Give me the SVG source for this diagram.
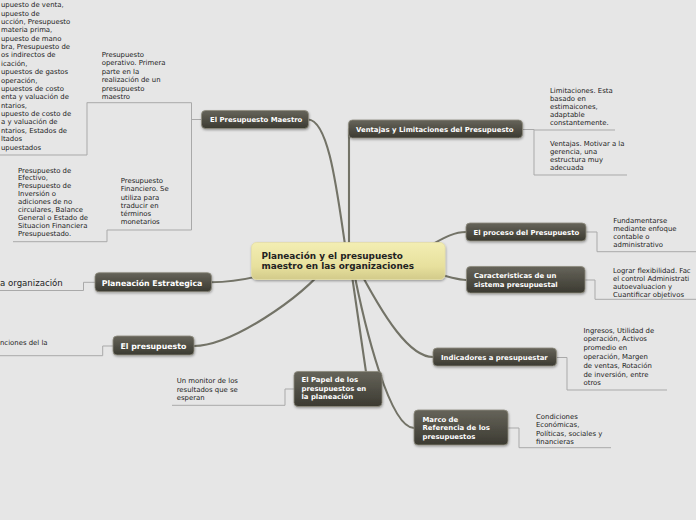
<svg xmlns="http://www.w3.org/2000/svg" width="696" height="520" viewBox="0 0 696 520">
<defs>
<linearGradient id="dark" x1="0" y1="0" x2="0" y2="1"><stop offset="0" stop-color="#66645a"/><stop offset="1" stop-color="#3b3a31"/></linearGradient>
<linearGradient id="yel" x1="0" y1="0" x2="0" y2="1"><stop offset="0" stop-color="#f3eeb3"/><stop offset="0.65" stop-color="#e7e09d"/><stop offset="1" stop-color="#d2ca8a"/></linearGradient>
<filter id="sh" x="-10%" y="-20%" width="120%" height="150%"><feDropShadow dx="0.5" dy="1.2" stdDeviation="0.8" flood-color="#000" flood-opacity="0.35"/></filter>
<style>
.main{fill:none;stroke:#737367;stroke-width:2.1;stroke-linecap:round}
.thin{fill:none;stroke:#a9a9a9;stroke-width:1}
.box{fill:url(#dark);stroke:#8e8c7e;stroke-width:0.8;filter:url(#sh)}
.cbox{fill:url(#yel);stroke:#e4dea6;stroke-width:0.8;filter:url(#sh)}
.nt{font-family:"DejaVu Sans",Verdana,sans-serif;font-weight:bold;font-size:6.9px;fill:#ffffff}
.nl{font-family:"DejaVu Sans",Verdana,sans-serif;font-weight:bold;font-size:7.8px;fill:#ffffff}
.ct{font-family:"DejaVu Sans",Verdana,sans-serif;font-weight:bold;font-size:8.9px;fill:#222222}
.lt{font-family:"DejaVu Sans",Verdana,sans-serif;font-size:6.9px;fill:#222222}
.lb{font-family:"DejaVu Sans",Verdana,sans-serif;font-size:8.6px;fill:#222222}
</style>
</defs>
<rect width="696" height="520" fill="#e6e6e6"/>
<g id="connectors">
<path class="main" d="M347,258 C338,200 330,120 308,119.5"/>
<path class="main" d="M349,258 L349,129"/>
<path class="main" d="M400,258 C430,250 445,232 466,232"/>
<path class="main" d="M400,262 C430,270 450,280 466,280"/>
<path class="main" d="M355,262 C385,320 410,357 433,357"/>
<path class="main" d="M352,262 C365,330 390,428 414,428"/>
<path class="main" d="M350,262 L366,372"/>
<path class="main" d="M330,262 C300,300 230,346 194,346"/>
<path class="main" d="M300,262 C270,275 240,282 211,282.3"/>
<path class="thin" d="M201.5,119.5 H191.5 M191.5,102.7 V230 M86.8,102.7 H191.5 M107,230 H191.5 M87,102.7 V155 M0,155 H87 M107,230 V241.7 M13,241.7 H107"/>
<path class="thin" d="M522.5,129.5 H534 V175 M534,130 H615 M534,175 H627"/>
<path class="thin" d="M586,232 H597 V251.7 H696"/>
<path class="thin" d="M585,280 H595 V299.3 H696"/>
<path class="thin" d="M556.5,357.5 H567 V390 H667"/>
<path class="thin" d="M508,428 H519 V447.7 H611"/>
<path class="thin" d="M294,389 H285 V405.3 H172"/>
<path class="thin" d="M113,346 H102.7 V355.7 H0"/>
<path class="thin" d="M95,282.3 H83.5 V290.5 H0"/>
</g>
<g id="center">
<rect class="cbox" x="251.5" y="242.5" width="193.5" height="37" rx="5"/>
<text class="ct" x="261.5" y="258.5">Planeación y el presupuesto</text>
<text class="ct" x="261.5" y="268.8">maestro en las organizaciones</text>
</g>
<g id="n-maestro">
<rect class="box" x="201.5" y="110.5" width="107" height="18" rx="4"/>
<text class="nt" x="210" y="122">El Presupuesto Maestro</text>
</g>
<g id="n-ventajas">
<rect class="box" x="348.5" y="120" width="174" height="18" rx="4"/>
<text class="nt" x="356" y="131.5">Ventajas y Limitaciones del Presupuesto</text>
</g>
<g id="n-proceso">
<rect class="box" x="466" y="223" width="120" height="18" rx="4"/>
<text class="nt" x="473.5" y="234.5">El proceso del Presupuesto</text>
</g>
<g id="n-caract">
<rect class="box" x="466.5" y="266.5" width="118.5" height="26.5" rx="4"/>
<text class="nt" x="474" y="277.5">Caracteristicas de un</text>
<text class="nt" x="474" y="286.5">sistema presupuestal</text>
</g>
<g id="n-indicadores">
<rect class="box" x="433" y="348" width="123.5" height="18" rx="4"/>
<text class="nt" x="441" y="360">Indicadores a presupuestar</text>
</g>
<g id="n-marco">
<rect class="box" x="414" y="410" width="94" height="35" rx="4"/>
<text class="nt" x="422.5" y="421.5">Marco de</text>
<text class="nt" x="422.5" y="430">Referencia de los</text>
<text class="nt" x="422.5" y="438.5">presupuestos</text>
</g>
<g id="n-papel">
<rect class="box" x="294" y="371.5" width="88" height="35" rx="4"/>
<text class="nt" x="301.5" y="382">El Papel de los</text>
<text class="nt" x="301.5" y="390.5">presupuestos en</text>
<text class="nt" x="301.5" y="399">la planeación</text>
</g>
<g id="n-presupuesto">
<rect class="box" x="113" y="336" width="81" height="19" rx="4"/>
<text class="nl" x="120.5" y="348.5">El presupuesto</text>
</g>
<g id="n-estrategica">
<rect class="box" x="95" y="272.7" width="116.5" height="19" rx="4"/>
<text class="nl" x="101.7" y="285.5">Planeación Estrategica</text>
</g>
<g id="l-lista">
<text class="lt"><tspan x="1" y="7.2">upuesto de venta,</tspan><tspan x="1" y="15.6">upuesto de</tspan><tspan x="1" y="24">ucción, Presupuesto</tspan><tspan x="1" y="32.3">materia prima,</tspan><tspan x="1" y="40.7">upuesto de mano</tspan><tspan x="1" y="49">bra, Presupuesto de</tspan><tspan x="1" y="57.4">os indirectos de</tspan><tspan x="1" y="65.8">icación,</tspan><tspan x="1" y="74.2">upuestos de gastos</tspan><tspan x="1" y="82.5">operación,</tspan><tspan x="1" y="90.9">upuestos de costo</tspan><tspan x="1" y="99.3">enta y valuación de</tspan><tspan x="1" y="107.6">ntarios,</tspan><tspan x="1" y="116">upuesto de costo de</tspan><tspan x="1" y="124.4">a y valuación de</tspan><tspan x="1" y="132.8">ntarios, Estados de</tspan><tspan x="1" y="141.1">ltados</tspan><tspan x="1" y="149.5">upuestados</tspan></text>
</g>
<g id="l-operativo">
<text class="lt"><tspan x="101.7" y="56.5">Presupuesto</tspan><tspan x="101.7" y="65">operativo. Primera</tspan><tspan x="101.7" y="73.5">parte en la</tspan><tspan x="101.7" y="82">realización de un</tspan><tspan x="101.7" y="90.5">presupuesto</tspan><tspan x="101.7" y="99">maestro</tspan></text>
</g>
<g id="l-financiero">
<text class="lt"><tspan x="120.7" y="183.2">Presupuesto</tspan><tspan x="120.7" y="191.4">Financiero. Se</tspan><tspan x="120.7" y="199.6">utiliza para</tspan><tspan x="120.7" y="207.8">traducir en</tspan><tspan x="120.7" y="216">términos</tspan><tspan x="120.7" y="224.2">monetarios</tspan></text>
</g>
<g id="l-efectivo">
<text class="lt"><tspan x="18" y="172.5">Presupuesto de</tspan><tspan x="18" y="180.4">Efectivo,</tspan><tspan x="18" y="188.3">Presupuesto de</tspan><tspan x="18" y="196.2">Inversión o</tspan><tspan x="18" y="204.1">adiciones de no</tspan><tspan x="18" y="212">circulares, Balance</tspan><tspan x="18" y="219.9">General o Estado de</tspan><tspan x="18" y="227.8">Situacion Financiera</tspan><tspan x="18" y="235.7">Presupuestado.</tspan></text>
</g>
<g id="l-limitaciones">
<text class="lt"><tspan x="550" y="93.2">Limitaciones. Esta</tspan><tspan x="550" y="101.2">basado en</tspan><tspan x="550" y="109.2">estimaicones,</tspan><tspan x="550" y="117.2">adaptable</tspan><tspan x="550" y="125.2">constantemente.</tspan></text>
</g>
<g id="l-ventajas">
<text class="lt"><tspan x="550" y="145.8">Ventajas. Motivar a la</tspan><tspan x="550" y="154">gerencia, una</tspan><tspan x="550" y="162.2">estructura muy</tspan><tspan x="550" y="170.4">adecuada</tspan></text>
</g>
<g id="l-fundamentarse">
<text class="lt"><tspan x="613.3" y="223.2">Fundamentarse</tspan><tspan x="613.3" y="231.3">mediante enfoque</tspan><tspan x="613.3" y="239.3">contable o</tspan><tspan x="613.3" y="247.2">administrativo</tspan></text>
</g>
<g id="l-lograr">
<text class="lt"><tspan x="613" y="272.6">Lograr flexibilidad. Fac</tspan><tspan x="613" y="280.8">el control Administrati</tspan><tspan x="613" y="289">autoevaluacion y</tspan><tspan x="613" y="297">Cuantificar objetivos</tspan></text>
</g>
<g id="l-ingresos">
<text class="lt"><tspan x="583.5" y="332.5">Ingresos, Utilidad de</tspan><tspan x="583.5" y="341.3">operación, Activos</tspan><tspan x="583.5" y="350.1">promedio en</tspan><tspan x="583.5" y="358.9">operación, Margen</tspan><tspan x="583.5" y="367.7">de ventas, Rotación</tspan><tspan x="583.5" y="376.5">de inversión, entre</tspan><tspan x="583.5" y="385.3">otros</tspan></text>
</g>
<g id="l-condiciones">
<text class="lt"><tspan x="536" y="418.5">Condiciones</tspan><tspan x="536" y="427">Económicas,</tspan><tspan x="536" y="435.5">Políticas, sociales y</tspan><tspan x="536" y="444">financieras</tspan></text>
</g>
<g id="l-monitor">
<text class="lt"><tspan x="176.7" y="383.2">Un monitor de los</tspan><tspan x="176.7" y="391.6">resultados que se</tspan><tspan x="176.7" y="400.2">esperan</tspan></text>
</g>
<g id="l-funciones">
<text class="lt" x="0" y="344.5">nciones del la</text>
</g>
<g id="l-organizacion">
<text class="lb" x="0" y="285.5">a organización</text>
</g>
</svg>
